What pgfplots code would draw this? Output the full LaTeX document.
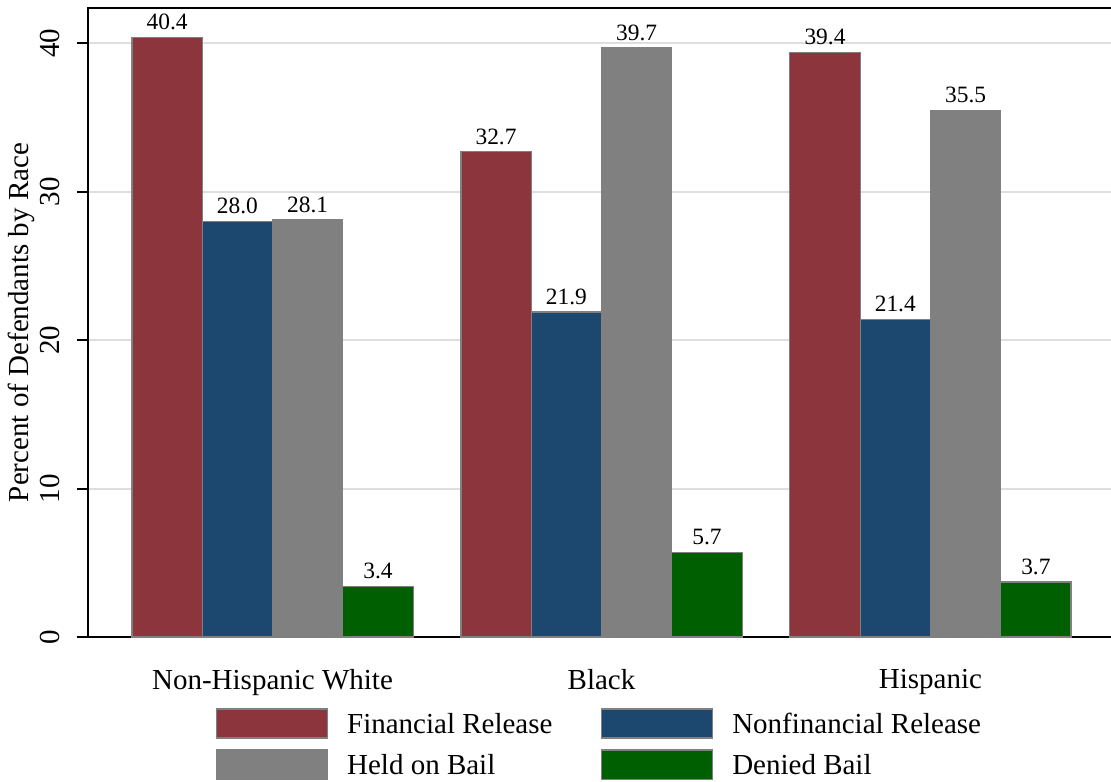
\documentclass[border=0pt]{standalone}
\usepackage{pgfplots}
\pgfplotsset{compat=1.18}
\usepackage{fontspec}
\setmainfont{Liberation Serif}
\definecolor{fin}{RGB}{140,53,60}
\definecolor{nonfin}{RGB}{28,71,111}
\definecolor{held}{RGB}{128,128,128}
\definecolor{denied}{RGB}{0,95,0}
\begin{document}
\begin{tikzpicture}
\begin{axis}[
  at={(0,0)}, anchor=south west,
  scale only axis, width=513.5bp, height=314.5bp,
  xmin=-0.561, xmax=2.561, ymin=0, ymax=42.39,
  xtick={0,1,2},
  xticklabels={Non-Hispanic White, Black, Hispanic},
  ytick={0,10,20,30,40},
  /pgf/number format/assume math mode=true,
  axis line style={black, line width=1bp},
  tick align=outside,
  major tick length=5.5bp,
  xtick style={draw=none},
  ytick style={black, line width=1bp},
  ymajorgrids,
  grid style={color=black!13, line width=1bp},
  tick label style={font=\fontsize{14.5bp}{17bp}\selectfont},
  xticklabel style={inner sep=0pt, anchor=north, yshift=-10.5bp},
  yticklabel style={rotate=90, anchor=south, inner sep=0pt},
  yticklabel shift=8.5bp,
  ylabel={Percent of Defendants by Race},
  every axis y label/.style={at={(axis description cs:-0.0575,0.5)}, rotate=90, anchor=base, font=\fontsize{14.5bp}{17bp}\selectfont},
  ybar, bar width=0.2137,
  every axis plot/.append style={draw=black!50, line width=0.6bp},
  nodes near coords={\pgfmathprintnumber[fixed,fixed zerofill,precision=1]{\pgfplotspointmeta}},
  every node near coord/.append style={font=\fontsize{11.7bp}{14bp}\selectfont, black},
  legend columns=2,
  legend cell align=left,
  legend image code/.code={\draw[#1] (0bp,-6bp) rectangle (55.5bp,8.5bp);},
  legend style={at={(axis description cs:0.1246,-0.1705)}, anchor=west, draw=none, fill=none,
    inner sep=0pt, outer sep=0pt, row sep=5.25bp, column sep=0pt,
    font=\fontsize{14.5bp}{17bp}\selectfont,
    nodes={inner sep=0pt, text height=10bp, text depth=3bp},
    /tikz/every odd column/.append style={column sep=9.5bp},
    /tikz/every even column/.append style={column sep=24.3bp}},
]
\addplot[fill=fin, bar shift=-0.32055] coordinates {(0,40.4) (1,32.7) (2,39.4)};
\addplot[fill=nonfin, bar shift=-0.10685] coordinates {(0,28.0) (1,21.9) (2,21.4)};
\addplot[fill=held, bar shift=0.10685] coordinates {(0,28.1) (1,39.7) (2,35.5)};
\addplot[fill=denied, bar shift=0.32055] coordinates {(0,3.4) (1,5.7) (2,3.7)};
\legend{Financial Release, Nonfinancial Release, Held on Bail, Denied Bail}
\end{axis}
\pgfresetboundingbox
\path[use as bounding box] (-44bp,-72.5bp) rectangle (511.5bp,318.5bp);
\end{tikzpicture}
\end{document}
